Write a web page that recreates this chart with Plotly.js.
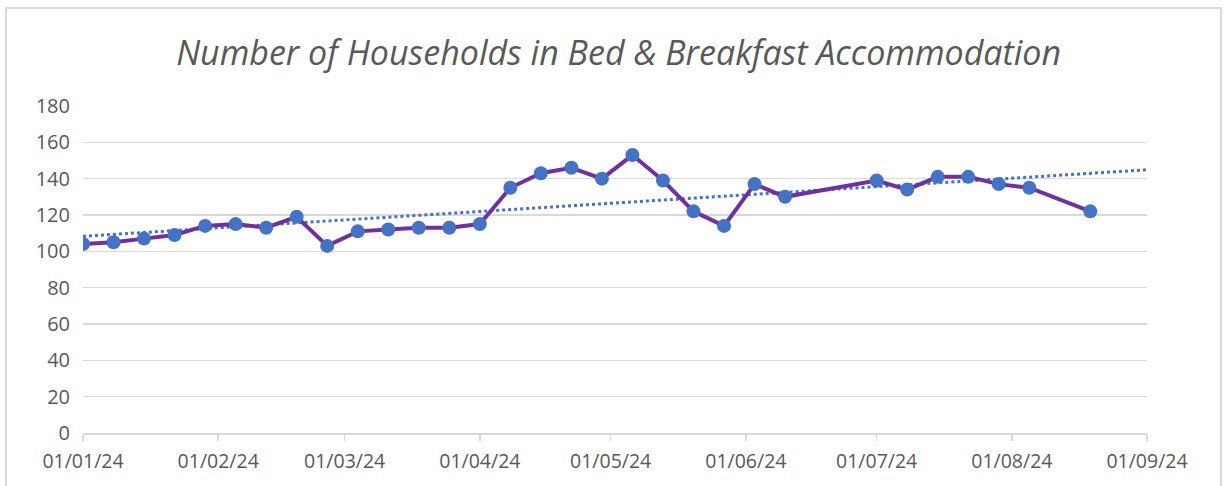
<!DOCTYPE html>
<html>
<head>
<meta charset="utf-8">
<script src="https://cdn.plot.ly/plotly-3.0.1.min.js"></script>
<style>
  html, body { margin: 0; padding: 0; background: #ffffff; }
  #chart { width: 1225px; height: 486px; }
  #frame { position: absolute; left: 5px; top: 7px; width: 1217px; height: 490px;
           border: 2px solid #d9d9d9; pointer-events: none; box-sizing: border-box; }
</style>
</head>
<body>
<div id="chart"></div>
<div id="frame"></div>
<script>
// Weekly counts of households in B&B accommodation (2024)
const dates = [
  "2024-01-01","2024-01-08","2024-01-15","2024-01-22","2024-01-29",
  "2024-02-05","2024-02-12","2024-02-19","2024-02-26",
  "2024-03-04","2024-03-11","2024-03-18","2024-03-25",
  "2024-04-01","2024-04-08","2024-04-15","2024-04-22","2024-04-29",
  "2024-05-06","2024-05-13","2024-05-20","2024-05-27",
  "2024-06-03","2024-06-10",
  "2024-07-01","2024-07-08","2024-07-15","2024-07-22","2024-07-29",
  "2024-08-05","2024-08-19"
];
const households = [
  104,105,107,109,114,
  115,113,119,103,
  111,112,113,113,
  115,135,143,146,140,
  153,139,122,114,
  137,130,
  139,134,141,141,137,
  135,122
];
const axisStart = "2024-01-01";
const axisEnd = "2024-09-01";
const yTicks = [0,20,40,60,80,100,120,140,160,180];

// Linear trendline (least squares on date values), extended to the axis end
const t = dates.map(d => Date.parse(d + "T00:00:00Z"));
const n = t.length;
const mx = t.reduce((a,b)=>a+b,0)/n;
const my = households.reduce((a,b)=>a+b,0)/n;
let sxy = 0, sxx = 0;
for (let i = 0; i < n; i++) { sxy += (t[i]-mx)*(households[i]-my); sxx += (t[i]-mx)*(t[i]-mx); }
const slope = sxy/sxx, intercept = my - slope*mx;
const trendX = [axisStart, axisEnd];
const trendY = trendX.map(d => intercept + slope*Date.parse(d + "T00:00:00Z"));

const data = [
  {
    x: trendX, y: trendY, type: "scatter", mode: "lines",
    line: { color: "#4472c4", width: 3, dash: "dot" },
    hoverinfo: "skip", showlegend: false
  },
  {
    x: dates, y: households, type: "scatter", mode: "lines+markers",
    line: { color: "#7030a0", width: 4 },
    marker: { color: "#4472c4", size: 14 },
    showlegend: false
  }
];

const layout = {
  width: 1225, height: 486,
  margin: { l: 83, r: 78, t: 106, b: 53 },
  paper_bgcolor: "#ffffff", plot_bgcolor: "#ffffff",
  font: { family: "Open Sans, sans-serif", color: "#595959" },
  title: {
    text: "<i>Number of Households in Bed &amp; Breakfast Accommodation</i>",
    font: { family: "Open Sans, sans-serif", size: 34, color: "#595959" },
    x: 0.505, xanchor: "center", y: 0.89, yanchor: "middle", yref: "container"
  },
  xaxis: {
    type: "date",
    range: [axisStart, axisEnd],
    tick0: axisStart, dtick: "M1",
    tickformat: "%d/%m/%y",
    showgrid: false,
    showline: true, linecolor: "#d9d9d9", linewidth: 1.5,
    ticks: "outside", ticklen: 6, tickcolor: "#d9d9d9", tickwidth: 1.5,
    ticklabelstandoff: 4,
    tickfont: { size: 19.5, color: "#595959" },
    zeroline: false, fixedrange: true
  },
  yaxis: {
    range: [0, 180],
    tickvals: yTicks,
    showgrid: true, gridcolor: "#d9d9d9", gridwidth: 1.5,
    zeroline: false, showline: false, ticks: "",
    ticklabelstandoff: 12,
    tickfont: { size: 20, color: "#595959" },
    fixedrange: true
  },
  hovermode: false
};

Plotly.newPlot("chart", data, layout, { displayModeBar: false, staticPlot: true });
</script>
</body>
</html>
